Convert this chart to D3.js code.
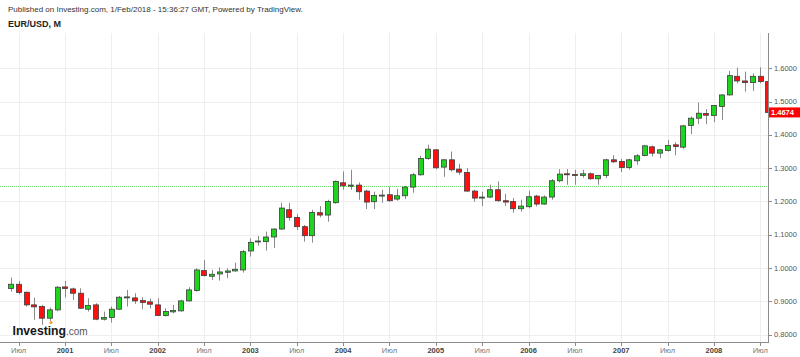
<!DOCTYPE html>
<html><head><meta charset="utf-8">
<script src="https://cdn.jsdelivr.net/npm/d3@7"></script>
<style>body{margin:0;background:#fff}svg{display:block;font-family:"Liberation Sans",Arial,sans-serif}</style>
</head><body>
<svg id="c" width="800" height="357"></svg>
<script>
const months = [
"2000-06","2000-07","2000-08","2000-09","2000-10","2000-11","2000-12",
"2001-01","2001-02","2001-03","2001-04","2001-05","2001-06","2001-07","2001-08","2001-09","2001-10","2001-11","2001-12",
"2002-01","2002-02","2002-03","2002-04","2002-05","2002-06","2002-07","2002-08","2002-09","2002-10","2002-11","2002-12",
"2003-01","2003-02","2003-03","2003-04","2003-05","2003-06","2003-07","2003-08","2003-09","2003-10","2003-11","2003-12",
"2004-01","2004-02","2004-03","2004-04","2004-05","2004-06","2004-07","2004-08","2004-09","2004-10","2004-11","2004-12",
"2005-01","2005-02","2005-03","2005-04","2005-05","2005-06","2005-07","2005-08","2005-09","2005-10","2005-11","2005-12",
"2006-01","2006-02","2006-03","2006-04","2006-05","2006-06","2006-07","2006-08","2006-09","2006-10","2006-11","2006-12",
"2007-01","2007-02","2007-03","2007-04","2007-05","2007-06","2007-07","2007-08","2007-09","2007-10","2007-11","2007-12",
"2008-01","2008-02","2008-03","2008-04","2008-05","2008-06","2008-07","2008-08"];
const open = [
0.938,0.951,0.927,0.889,0.884,0.849,0.874,
0.943,0.937,0.924,0.876,0.889,0.846,0.851,0.876,0.910,0.910,0.902,0.898,
0.889,0.857,0.868,0.871,0.901,0.932,0.992,0.975,0.982,0.987,0.991,0.994,
1.051,1.078,1.079,1.093,1.117,1.175,1.152,1.124,1.097,1.166,1.159,1.196,
1.256,1.247,1.249,1.231,1.199,1.218,1.220,1.207,1.217,1.243,1.280,1.329,
1.355,1.303,1.325,1.297,1.287,1.231,1.210,1.213,1.235,1.202,1.200,1.178,
1.184,1.216,1.192,1.213,1.262,1.283,1.281,1.278,1.283,1.268,1.278,1.325,
1.320,1.302,1.322,1.338,1.364,1.345,1.353,1.370,1.363,1.428,1.450,1.464,
1.458,1.485,1.520,1.576,1.562,1.557,1.576,1.560];
const high = [
0.971,0.961,0.929,0.911,0.889,0.881,0.946,
0.961,0.941,0.939,0.909,0.894,0.869,0.884,0.916,0.934,0.924,0.912,0.908,
0.909,0.879,0.889,0.904,0.942,0.999,1.024,0.994,1.002,0.999,1.016,1.054,
1.089,1.096,1.109,1.119,1.196,1.195,1.162,1.129,1.175,1.186,1.205,1.263,
1.290,1.295,1.257,1.235,1.229,1.235,1.244,1.238,1.247,1.286,1.337,1.370,
1.357,1.327,1.350,1.313,1.300,1.235,1.229,1.250,1.260,1.223,1.210,1.205,
1.232,1.220,1.218,1.267,1.297,1.297,1.295,1.295,1.287,1.280,1.328,1.339,
1.328,1.328,1.342,1.370,1.368,1.358,1.385,1.378,1.430,1.455,1.497,1.477,
1.490,1.522,1.592,1.602,1.590,1.585,1.603,1.562];
const low = [
0.929,0.921,0.884,0.844,0.829,0.841,0.870,
0.911,0.904,0.877,0.869,0.843,0.842,0.836,0.874,0.884,0.892,0.876,0.878,
0.856,0.854,0.864,0.869,0.899,0.929,0.974,0.964,0.962,0.969,0.989,0.986,
1.034,1.067,1.052,1.060,1.114,1.142,1.114,1.079,1.076,1.152,1.139,1.193,
1.235,1.235,1.205,1.177,1.177,1.196,1.199,1.202,1.207,1.226,1.277,1.325,
1.297,1.274,1.290,1.280,1.229,1.199,1.186,1.210,1.199,1.186,1.166,1.169,
1.179,1.185,1.190,1.205,1.257,1.250,1.250,1.271,1.265,1.250,1.270,1.315,
1.288,1.295,1.310,1.335,1.335,1.330,1.350,1.338,1.358,1.402,1.432,1.432,
1.438,1.445,1.518,1.555,1.530,1.532,1.555,1.4674];
const close = [
0.951,0.926,0.889,0.883,0.849,0.874,0.942,
0.938,0.924,0.879,0.887,0.846,0.851,0.876,0.912,0.913,0.901,0.896,0.891,
0.857,0.869,0.872,0.901,0.934,0.994,0.977,0.981,0.988,0.991,0.996,1.049,
1.077,1.081,1.093,1.117,1.180,1.152,1.124,1.097,1.167,1.159,1.200,1.260,
1.247,1.249,1.229,1.198,1.218,1.219,1.202,1.217,1.243,1.280,1.329,1.357,
1.301,1.325,1.295,1.288,1.231,1.210,1.213,1.235,1.202,1.198,1.178,1.186,
1.214,1.192,1.213,1.262,1.282,1.280,1.278,1.283,1.268,1.278,1.325,1.319,
1.302,1.325,1.337,1.367,1.345,1.355,1.368,1.365,1.427,1.450,1.465,1.459,
1.488,1.520,1.578,1.562,1.557,1.576,1.560,1.4674];
const priceTicks = [0.8,0.9,1.0,1.1,1.2,1.3,1.4,1.5,1.6];
const xTickMonths = ["2000-07","2001-01","2001-07","2002-01","2002-07","2003-01","2003-07","2004-01","2004-07","2005-01","2005-07","2006-01","2006-07","2007-01","2007-07","2008-01","2008-07"];
const xTickLabels = ["Июл","2001","Июл","2002","Июл","2003","Июл","2004","Июл","2005","Июл","2006","Июл","2007","Июл","2008","Июл"];
const lastPrice = 1.4674;
const refLevel = 1.2475;
const headerText = "Published on Investing.com, 1/Feb/2018 - 15:36:27 GMT, Powered by TradingView.";
const symbolText = "EUR/USD, M";

const svg = d3.select("#c");
const plotRight = 768, plotTop = 33, plotBottom = 342;

const x = d3.scaleBand().domain(months).range([7.04, 771.86]).paddingInner(0.3).paddingOuter(0.15);
const y = d3.scaleLinear().domain([0.8, 1.6]).range([334.5, 68.3]);
const cx = m => x(m) + x.bandwidth() / 2;

svg.append("defs").append("clipPath").attr("id", "plotclip")
  .append("rect").attr("x", 0).attr("y", plotTop).attr("width", plotRight).attr("height", plotBottom - plotTop);

// grid
const grid = svg.append("g").attr("shape-rendering", "crispEdges");
grid.selectAll("line.h").data(priceTicks).join("line")
  .attr("x1", 0).attr("x2", plotRight)
  .attr("y1", d => Math.round(y(d)) + 0.5).attr("y2", d => Math.round(y(d)) + 0.5)
  .attr("stroke", "#eeeeee");
grid.selectAll("line.v").data(xTickMonths).join("line")
  .attr("x1", d => Math.round(cx(d)) + 0.5).attr("x2", d => Math.round(cx(d)) + 0.5)
  .attr("y1", plotTop).attr("y2", plotBottom)
  .attr("stroke", "#eeeeee");

// reference dotted line
svg.append("line").attr("x1", 0).attr("x2", plotRight)
  .attr("y1", Math.round(y(refLevel)) + 0.5).attr("y2", Math.round(y(refLevel)) + 0.5)
  .attr("stroke", "#66dd66").attr("stroke-dasharray", "1,1").attr("shape-rendering", "crispEdges");

// candles
const data = months.map((m, i) => ({m, o: open[i], h: high[i], l: low[i], c: close[i]}));
const cg = svg.append("g").attr("clip-path", "url(#plotclip)");
cg.selectAll("line.wick").data(data).join("line")
  .attr("x1", d => Math.round(cx(d.m)) + 0.5).attr("x2", d => Math.round(cx(d.m)) + 0.5)
  .attr("y1", d => y(d.h)).attr("y2", d => y(d.l))
  .attr("stroke", "#8a8a8a").attr("stroke-width", 1);
cg.selectAll("rect.body").data(data).join("rect")
  .attr("x", d => Math.round(cx(d.m) - x.bandwidth() / 2) + 0.5)
  .attr("width", Math.round(x.bandwidth()))
  .attr("y", d => y(Math.max(d.o, d.c)))
  .attr("height", d => Math.max(1, Math.abs(y(d.o) - y(d.c))))
  .attr("fill", d => d.c >= d.o ? "#1fd41f" : "#ff1010")
  .attr("stroke", "#3d3d3d").attr("stroke-width", 0.8);

// axes lines
svg.append("line").attr("x1", plotRight + 0.5).attr("x2", plotRight + 0.5).attr("y1", plotTop).attr("y2", plotBottom + 1)
  .attr("stroke", "#8c8c8c").attr("shape-rendering", "crispEdges");
svg.append("line").attr("x1", 0).attr("x2", plotRight + 1).attr("y1", plotBottom + 0.5).attr("y2", plotBottom + 0.5)
  .attr("stroke", "#8c8c8c").attr("shape-rendering", "crispEdges");

// right axis ticks & labels
const ra = svg.append("g");
ra.selectAll("line").data(priceTicks).join("line")
  .attr("x1", plotRight + 1).attr("x2", plotRight + 4)
  .attr("y1", d => Math.round(y(d)) + 0.5).attr("y2", d => Math.round(y(d)) + 0.5)
  .attr("stroke", "#8c8c8c").attr("shape-rendering", "crispEdges");
ra.selectAll("text").data(priceTicks).join("text")
  .attr("x", 774).attr("y", d => y(d)).attr("dy", "0.35em")
  .attr("font-size", 7.5).attr("fill", "#555")
  .text(d => d3.format(".4f")(d));

// bottom axis ticks & labels
const ba = svg.append("g");
ba.selectAll("line").data(xTickMonths).join("line")
  .attr("x1", d => Math.round(cx(d)) + 0.5).attr("x2", d => Math.round(cx(d)) + 0.5)
  .attr("y1", plotBottom + 1).attr("y2", plotBottom + 4)
  .attr("stroke", "#8c8c8c").attr("shape-rendering", "crispEdges");
ba.selectAll("text").data(xTickMonths).join("text")
  .attr("x", d => cx(d)).attr("y", 353).attr("text-anchor", "middle")
  .attr("font-size", 7.5)
  .attr("font-weight", (d, i) => xTickLabels[i] === "Июл" ? "normal" : "bold")
  .attr("fill", (d, i) => xTickLabels[i] === "Июл" ? "#777" : "#444")
  .text((d, i) => xTickLabels[i]);

// last price tag
svg.append("rect").attr("x", plotRight + 1).attr("y", y(lastPrice) - 5).attr("width", 31).attr("height", 10).attr("fill", "#ff0000");
svg.append("text").attr("x", 771).attr("y", y(lastPrice)).attr("dy", "0.35em")
  .attr("font-size", 7.5).attr("font-weight", "bold").attr("fill", "#fff").text(d3.format(".4f")(lastPrice));

// header
svg.append("text").attr("x", 8).attr("y", 12).attr("font-size", 8).attr("fill", "#333").text(headerText);
svg.append("text").attr("x", 8).attr("y", 27).attr("font-size", 9).attr("font-weight", "bold").attr("fill", "#222").text(symbolText);

// logo (single text element with two spans)
const logoText = svg.append("text").attr("x", 12.5).attr("y", 334.5);
logoText.append("tspan").attr("font-size", 12.2).attr("font-weight", "bold").attr("fill", "#151515").text("Investing");
logoText.append("tspan").attr("font-size", 10).attr("fill", "#555").text(".com");
svg.append("circle").attr("cx", 51).attr("cy", 322.5).attr("r", 1.6).attr("fill", "#f7a21b");
</script>
</body></html>
